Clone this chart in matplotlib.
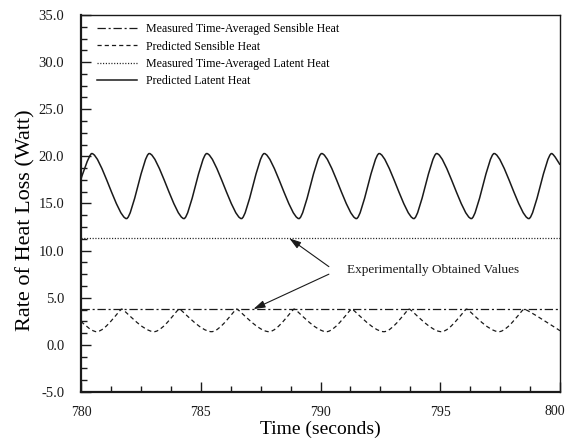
import matplotlib
matplotlib.use("Agg")
import matplotlib.pyplot as plt
from matplotlib.path import Path
from matplotlib.patches import PathPatch
from matplotlib.ticker import MultipleLocator, FormatStrFormatter, FuncFormatter

plt.rcParams['font.family'] = ['Liberation Serif', 'DejaVu Serif']
plt.rcParams['lines.scale_dashes'] = False

# values
latent_t = [780.0, 780.45, 781.9, 782.85, 784.3, 785.25, 786.7, 787.65, 789.1, 790.05,
            791.5, 792.45, 793.9, 794.85, 796.3, 797.25, 798.7, 799.65, 800.0]
latent_v = [17.6, 20.3, 13.4, 20.3, 13.4, 20.3, 13.4, 20.3, 13.4, 20.3,
            13.4, 20.3, 13.4, 20.3, 13.4, 20.3, 13.4, 20.3, 19.1]

sens_t = [780.0, 780.65, 781.7, 783.05, 784.1, 785.45, 786.5, 787.85, 788.9, 790.25,
          791.3, 792.65, 793.7, 795.05, 796.1, 797.45, 798.5, 800.0]
sens_v = [2.5, 1.4, 3.8, 1.4, 3.8, 1.4, 3.8, 1.4, 3.8, 1.4,
          3.8, 1.4, 3.8, 1.4, 3.8, 1.4, 3.8, 1.5]

measured_sensible = 3.8
measured_latent = 11.3

x_min, x_max = 780, 800
labels = ["Measured Time-Averaged Sensible Heat", "Predicted Sensible Heat",
          "Measured Time-Averaged Latent Heat", "Predicted Latent Heat"]
note = "Experimentally Obtained Values"

ink = "#1a1a1a"


def smooth_path(ts, vs, k_peak, k_trough):
    # cubic segments with flat tangents at the turning points
    verts = [(ts[0], vs[0])]
    codes = [Path.MOVETO]
    n = len(ts)

    def k_of(i):
        if i == 0 or i == n - 1:
            return 0.0
        return k_peak if vs[i] > vs[i - 1] else k_trough

    for i in range(n - 1):
        dt = ts[i + 1] - ts[i]
        verts += [(ts[i] + k_of(i) * dt, vs[i]),
                  (ts[i + 1] - k_of(i + 1) * dt, vs[i + 1]),
                  (ts[i + 1], vs[i + 1])]
        codes += [Path.CURVE4] * 3
    return Path(verts, codes)


fig, ax = plt.subplots(figsize=(5.68, 4.40), dpi=100)
fig.subplots_adjust(left=81 / 568, right=560 / 568, top=1 - 15 / 440, bottom=1 - 392 / 440)

ds_dashdot = (0, (6, 2, 1.5, 2))
ds_dashed = (0, (3, 2.2))
ds_dotted = (0, (0.8, 1.2))

ax.axhline(measured_sensible, color=ink, lw=0.9, ls=ds_dashdot)
ax.axhline(measured_latent, color=ink, lw=0.9, ls=ds_dotted)
ax.add_patch(PathPatch(smooth_path(sens_t, sens_v, 0.08, 0.35), fill=False,
                       edgecolor=ink, lw=0.9, ls=ds_dashed))
ax.add_patch(PathPatch(smooth_path(latent_t, latent_v, 0.25, 0.25), fill=False,
                       edgecolor=ink, lw=1.1))

# legend proxies
ax.plot([], [], color=ink, lw=0.9, ls=ds_dashdot, label=labels[0])
ax.plot([], [], color=ink, lw=0.9, ls=ds_dashed, label=labels[1])
ax.plot([], [], color=ink, lw=0.9, ls=ds_dotted, label=labels[2])
ax.plot([], [], color=ink, lw=1.1, label=labels[3])
ax.legend(loc='upper left', bbox_to_anchor=(0.033, 0.978), frameon=False, fontsize=8.6,
          handlelength=3.4, handletextpad=0.7, labelspacing=0.45, borderpad=0, borderaxespad=0)

arrow = dict(arrowstyle='-|>,head_length=0.7,head_width=0.22', color=ink, lw=0.8,
             shrinkA=0, shrinkB=0)
ax.annotate('', xy=(788.7, measured_latent), xytext=(790.35, 8.3), arrowprops=arrow)
ax.annotate('', xy=(787.2, measured_sensible), xytext=(790.35, 7.5), arrowprops=arrow)
ax.text(791.1, 7.9, note, fontsize=9.5, va='center', ha='left', color=ink)

ax.set_xlim(x_min, x_max)
ax.set_ylim(-5, 35)
ax.xaxis.set_major_locator(MultipleLocator(5))
ax.xaxis.set_minor_locator(MultipleLocator(1.25))
ax.yaxis.set_major_locator(MultipleLocator(5))
ax.yaxis.set_minor_locator(MultipleLocator(1.25))
ax.yaxis.set_major_formatter(FormatStrFormatter('%.1f'))
# the last x label is drawn separately, nudged left so it stays inside the figure
ax.xaxis.set_major_formatter(FuncFormatter(lambda v, p: '' if v >= x_max else '%d' % v))
ax.annotate('%d' % x_max, xy=(x_max, 0), xycoords=('data', 'axes fraction'),
            xytext=(-3.5, -9.6), textcoords='offset points', ha='center', va='top',
            fontsize=10, color=ink)
ax.tick_params(which='both', direction='in', top=False, right=False, colors=ink)
ax.tick_params(axis='x', labelsize=10, pad=10)
ax.tick_params(axis='y', labelsize=10.5, pad=12)
ax.tick_params(which='major', length=7, width=1)
ax.tick_params(which='minor', length=4, width=1)
for s in ax.spines.values():
    s.set_color(ink)
    s.set_linewidth(1.0)
ax.spines['left'].set_linewidth(1.6)
ax.spines['bottom'].set_linewidth(1.6)

ax.set_xlabel('Time (seconds)', fontsize=14, labelpad=1)
ax.set_ylabel('Rate of Heat Loss (Watt)', fontsize=16, labelpad=5)
ax.yaxis.set_label_coords(-0.096, 0.455)

fig.savefig('out.png', dpi=100)
